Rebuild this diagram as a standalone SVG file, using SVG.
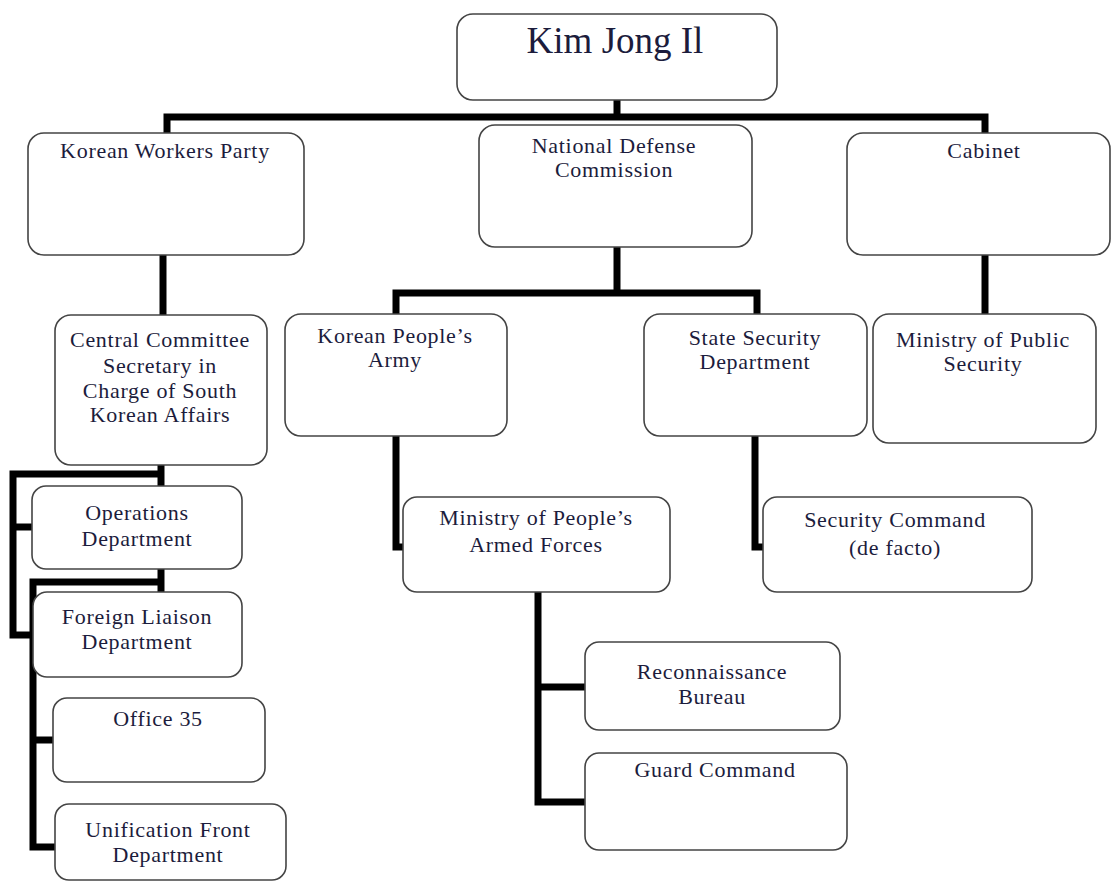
<svg xmlns="http://www.w3.org/2000/svg" width="1111" height="884" viewBox="0 0 1111 884">
<style>
.box{fill:#ffffff;stroke:#444444;stroke-width:1.6}
.t{font-family:"Liberation Serif","Times New Roman",serif;font-size:22px;letter-spacing:0.7px;fill:#1c1c3c;text-anchor:middle}
.big{font-size:37px;letter-spacing:0}
.c{fill:none;stroke:#000000;stroke-width:7;stroke-linejoin:miter;stroke-linecap:butt}
</style>
<rect width="1111" height="884" fill="#ffffff"/>
<g id="connectors">
<path class="c" d="M617 100 V117"/>
<path class="c" d="M167 133 V117 H985 V133"/>
<path class="c" d="M163 255 V315"/>
<path class="c" d="M617 247 V293"/>
<path class="c" d="M396 314 V293 H757 V314"/>
<path class="c" d="M985 255 V314"/>
<path class="c" d="M396 436 V547 H403"/>
<path class="c" d="M755 436 V547 H763"/>
<path class="c" d="M538 592 V802 H585"/>
<path class="c" d="M538 687 H585"/>
<path class="c" d="M161 465 V486"/>
<path class="c" d="M161 474 H13 V635 H33"/>
<path class="c" d="M13 527 H32"/>
<path class="c" d="M161 569 V592"/>
<path class="c" d="M161 582 H33 V847 H55"/>
<path class="c" d="M33 740 H53"/>
</g>
<g id="kim"><rect class="box" x="457" y="14" width="320" height="86" rx="16"/><text class="t big" x="615" y="53">Kim Jong Il</text></g>
<g id="kwp"><rect class="box" x="28" y="133" width="276" height="122" rx="16"/><text class="t" x="165" y="158">Korean Workers Party</text></g>
<g id="ndc"><rect class="box" x="479" y="125" width="273" height="122" rx="16"/><text class="t" x="614" y="153">National Defense</text><text class="t" x="614" y="177">Commission</text></g>
<g id="cabinet"><rect class="box" x="847" y="133" width="263" height="122" rx="16"/><text class="t" x="984" y="158">Cabinet</text></g>
<g id="cc"><rect class="box" x="55" y="315" width="212" height="150" rx="16"/><text class="t" x="160" y="347">Central Committee</text><text class="t" x="160" y="373">Secretary in</text><text class="t" x="160" y="398">Charge of South</text><text class="t" x="160" y="422">Korean Affairs</text></g>
<g id="kpa"><rect class="box" x="285" y="314" width="222" height="122" rx="16"/><text class="t" x="395" y="343">Korean People’s</text><text class="t" x="395" y="367">Army</text></g>
<g id="ssd"><rect class="box" x="644" y="314" width="223" height="122" rx="16"/><text class="t" x="755" y="345">State Security</text><text class="t" x="755" y="369">Department</text></g>
<g id="mps"><rect class="box" x="873" y="314" width="223" height="129" rx="16"/><text class="t" x="983" y="347">Ministry of Public</text><text class="t" x="983" y="371">Security</text></g>
<g id="ops"><rect class="box" x="32" y="486" width="210" height="83" rx="14"/><text class="t" x="137" y="520">Operations</text><text class="t" x="137" y="546">Department</text></g>
<g id="fl"><rect class="box" x="33" y="592" width="209" height="85" rx="14"/><text class="t" x="137" y="624">Foreign Liaison</text><text class="t" x="137" y="649">Department</text></g>
<g id="office35"><rect class="box" x="53" y="698" width="212" height="84" rx="14"/><text class="t" x="158" y="726">Office 35</text></g>
<g id="ufd"><rect class="box" x="55" y="804" width="231" height="76" rx="14"/><text class="t" x="168" y="837">Unification Front</text><text class="t" x="168" y="862">Department</text></g>
<g id="mpaf"><rect class="box" x="403" y="497" width="267" height="95" rx="14"/><text class="t" x="536" y="525">Ministry of People’s</text><text class="t" x="536" y="552">Armed Forces</text></g>
<g id="seccmd"><rect class="box" x="763" y="497" width="269" height="95" rx="14"/><text class="t" x="895" y="527">Security Command</text><text class="t" x="895" y="555">(de facto)</text></g>
<g id="recon"><rect class="box" x="585" y="642" width="255" height="88" rx="14"/><text class="t" x="712" y="679">Reconnaissance</text><text class="t" x="712" y="704">Bureau</text></g>
<g id="guard"><rect class="box" x="585" y="753" width="262" height="97" rx="14"/><text class="t" x="715" y="777">Guard Command</text></g>
</svg>
